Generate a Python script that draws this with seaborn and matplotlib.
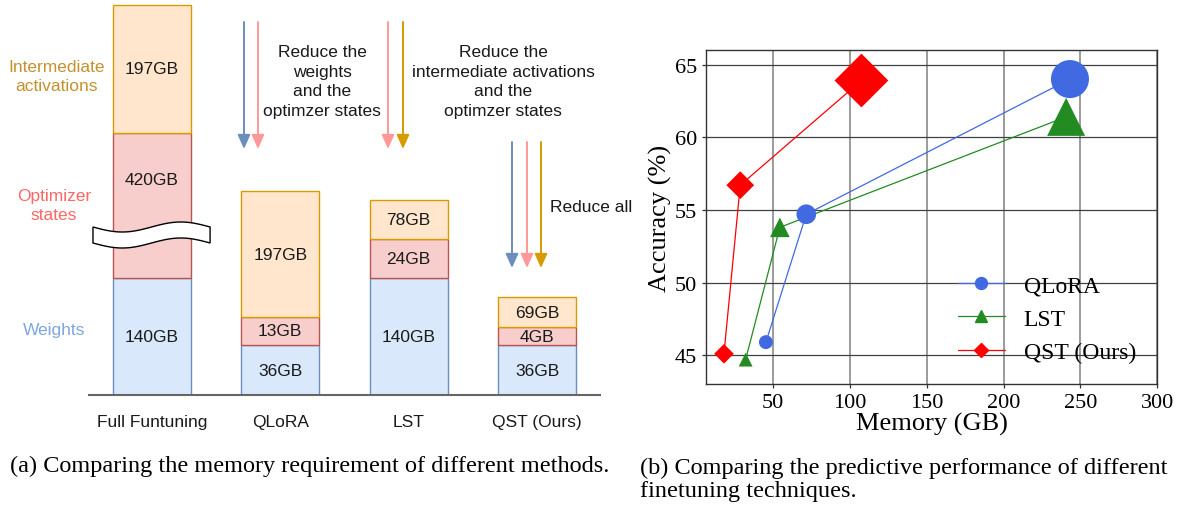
import numpy as np
import pandas as pd
import matplotlib.pyplot as plt
import seaborn as sns
from matplotlib.lines import Line2D
from matplotlib.patches import Polygon

# ---- panel (a): memory breakdown (schematic, segment heights as drawn)
methods = ['Full Funtuning', 'QLoRA', 'LST', 'QST (Ours)']
weights_h = [117, 50, 117, 50]
optim_h = [145, 28, 39, 18]
activ_h = [128, 126, 39, 30]
weights_lbl = ['140GB', '36GB', '140GB', '36GB']
optim_lbl = ['420GB', '13GB', '24GB', '4GB']
activ_lbl = ['197GB', '197GB', '78GB', '69GB']

# ---- panel (b): accuracy vs memory
qlora_mem = [45.2, 71.5, 243.2]
qlora_acc = [45.9, 54.7, 64.0]
lst_mem = [32.0, 54.3, 240.7]
lst_acc = [44.7, 53.8, 61.4]
qst_mem = [17.9, 28.5, 107.4]
qst_acc = [45.1, 56.7, 63.9]

sns.set_theme(style='ticks')
SANS = ['Liberation Sans', 'DejaVu Sans']
SERIF = ['Liberation Serif', 'DejaVu Serif']
plt.rcParams['font.family'] = SERIF
plt.rcParams['text.color'] = 'black'
plt.rcParams['axes.labelcolor'] = 'black'
plt.rcParams['xtick.color'] = 'black'
plt.rcParams['ytick.color'] = 'black'

W, H = 1185, 506
fig = plt.figure(figsize=(W / 100, H / 100), dpi=100)


def fx(x):
    return x / W


def fy(y):
    return 1 - y / H


# colours (draw.io style)
w_fill, w_edge = '#dae8fc', '#6c8ebf'
o_fill, o_edge = '#f8cecc', '#b85450'
a_fill, a_edge = '#ffe6cc', '#d79b00'
arrow_blue, arrow_pink, arrow_gold = '#6c8ebf', '#ff9999', '#d79b00'

# ================= panel (a) =================
ax1 = fig.add_axes([fx(89), fy(396), (600 - 89) / W, 396 / H])
df = pd.DataFrame({'method': methods, 'weights': weights_h,
                   'optim': optim_h, 'activ': activ_h})
df['base_o'] = df['weights']
df['base_a'] = df['weights'] + df['optim']

bar_kw = dict(data=df, x='method', order=methods, width=0.61, saturation=1,
              errorbar=None, linewidth=1.0, ax=ax1)
sns.barplot(y='weights', color=w_fill, edgecolor=w_edge, **bar_kw)
sns.barplot(y='optim', bottom=df['base_o'], color=o_fill, edgecolor=o_edge, **bar_kw)
sns.barplot(y='activ', bottom=df['base_a'], color=a_fill, edgecolor=a_edge, **bar_kw)

ax1.set_xlim(-0.49, 3.49)
ax1.set_ylim(0, 396)
ax1.set(xlabel='', ylabel='', yticks=[])
sns.despine(ax=ax1, left=True)
ax1.spines['bottom'].set_color('#666666')
ax1.spines['bottom'].set_linewidth(1.5)
ax1.tick_params(axis='x', length=0, pad=14, labelsize=12.5, labelcolor='#1a1a1a')
for t in ax1.get_xticklabels():
    t.set_family(SANS)

# axis break on the first bar
brk_top, brk_h = 168, 16
xs = np.linspace(-0.459, 0.453, 80)
tt = (xs - xs[0]) / (xs[-1] - xs[0])
top = brk_top - 5 * np.sin(2 * np.pi * tt)
verts = np.vstack([np.column_stack([xs, top]),
                   np.column_stack([xs[::-1], (top - brk_h)[::-1]])])
ax1.add_patch(Polygon(verts, closed=True, facecolor='white', edgecolor='black',
                      linewidth=1.0, zorder=5, clip_on=False))

# segment labels
seg_txt = dict(ha='center', va='center', fontsize=12.5, family=SANS,
               color='#1a1a1a', zorder=6)
for i in range(len(methods)):
    ax1.text(i, weights_h[i] / 2, weights_lbl[i], **seg_txt)
    o0, o1 = weights_h[i], weights_h[i] + optim_h[i]
    if o0 < brk_top < o1:
        o0 = brk_top
    ax1.text(i, (o0 + o1) / 2, optim_lbl[i], **seg_txt)
    a0 = o1
    ax1.text(i, a0 + activ_h[i] / 2, activ_lbl[i], **seg_txt)

# legend-like labels on the left
side_txt = dict(ha='center', va='center', fontsize=12.5, family=SANS,
                linespacing=1.4)
fig.text(fx(57), fy(77), 'Intermediate\nactivations', color='#c4922e', **side_txt)
fig.text(fx(54), fy(206), 'Optimizer\nstates', color='#ff6666', **side_txt)
fig.text(fx(54), fy(330), 'Weights', color='#7ea6e0', **side_txt)


def down_arrow(x, y0, y1, color):
    ax1.annotate('', xy=(fx(x), fy(y1)), xytext=(fx(x), fy(y0)),
                 xycoords='figure fraction', textcoords='figure fraction',
                 arrowprops=dict(arrowstyle='-|>,head_length=0.85,head_width=0.38',
                                 color=color, lw=1.4, shrinkA=0, shrinkB=0,
                                 mutation_scale=10))


down_arrow(244, 23, 150, arrow_blue)
down_arrow(258, 23, 150, arrow_pink)
down_arrow(388, 23, 150, arrow_pink)
down_arrow(403, 23, 150, arrow_gold)
down_arrow(512, 143, 269, arrow_blue)
down_arrow(527, 143, 269, arrow_pink)
down_arrow(541, 143, 269, arrow_gold)

note_txt = dict(va='center', fontsize=12.5, family=SANS, color='#1a1a1a',
                linespacing=1.4)
fig.text(fx(322), fy(82), 'Reduce the\nweights\nand the\noptimzer states',
         ha='center', **note_txt)
fig.text(fx(503), fy(82), 'Reduce the\nintermediate activations\nand the\noptimzer states',
         ha='center', **note_txt)
fig.text(fx(550), fy(207), 'Reduce all', ha='left', **note_txt)

# ================= panel (b) =================
ax2 = fig.add_axes([fx(705.7), fy(385.3), (1157.2 - 705.7) / W, (385.3 - 51) / H])
ax2.set_axisbelow(True)
ax2.yaxis.grid(True, color='#404040', linewidth=0.9)
ax2.xaxis.grid(True, color='#808080', linewidth=1.1)

point_sizes = [100, 200, 750]
series = [
    ('QLoRA', qlora_mem, qlora_acc, 'royalblue', 'o', 8.6),
    ('LST', lst_mem, lst_acc, 'forestgreen', '^', 8.6),
    ('QST (Ours)', qst_mem, qst_acc, 'red', 'D', 7.6),
]
handles = []
for name, mem, acc, col, mk, ms in series:
    sns.lineplot(x=mem, y=acc, sort=False, color=col, linewidth=0.9,
                 ax=ax2, legend=False, zorder=2)
    sns.scatterplot(x=mem, y=acc, s=point_sizes, marker=mk, color=col,
                    edgecolor='none', linewidth=0, ax=ax2, legend=False, zorder=3)
    handles.append(Line2D([], [], color=col, marker=mk, markersize=ms,
                          linewidth=0.9, label=name))

ax2.set_xlim(6, 300)
ax2.set_ylim(43, 66)
ax2.set_xticks([50, 100, 150, 200, 250, 300])
ax2.set_yticks([45, 50, 55, 60, 65])
ax2.tick_params(labelsize=16, length=3, width=0.9, color='#333333', pad=3)
ax2.set_xlabel('Memory (GB)', fontsize=19, labelpad=0)
ax2.set_ylabel('Accuracy (%)', fontsize=19, labelpad=2)
for sp in ax2.spines.values():
    sp.set_color('#333333')
    sp.set_linewidth(1.0)
ax2.legend(handles=handles, loc='lower right', frameon=False, fontsize=17)

# ================= captions =================
cap = dict(fontsize=17.5, family=SERIF, va='center', ha='left', color='black')
fig.text(fx(10), fy(466), '(a) Comparing the memory requirement of different methods.', **cap)
fig.text(fx(640), fy(480), '(b) Comparing the predictive performance of different\nfinetuning techniques.',
         linespacing=1.15, **cap)

fig.savefig('out.png', dpi=100)
